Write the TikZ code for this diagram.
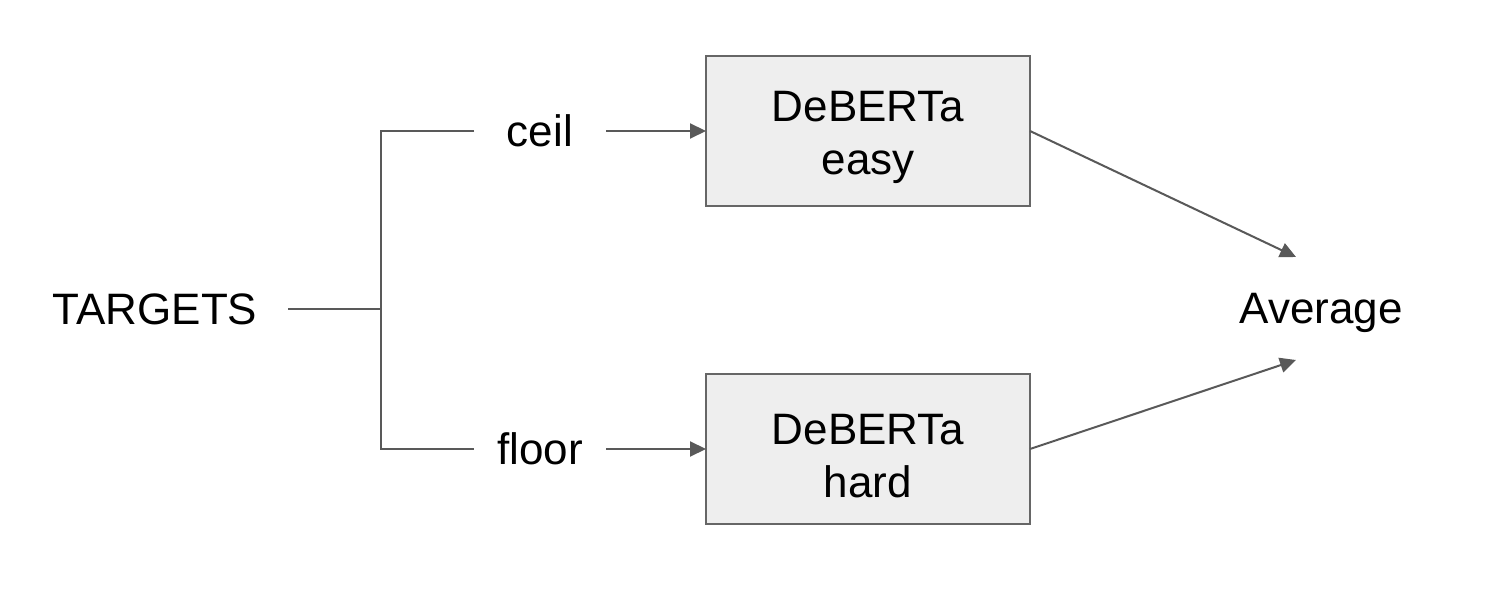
\documentclass[tikz,border=0pt]{standalone}
\usepackage{fontspec}
\setmainfont{Liberation Sans}
\usetikzlibrary{arrows.meta}
\definecolor{linec}{HTML}{595959}
\definecolor{boxfill}{HTML}{EEEEEE}
\definecolor{boxline}{HTML}{666666}
\begin{document}
\begin{tikzpicture}[x=0.5pt,y=-0.5pt,
  every node/.style={font=\fontsize{22pt}{26.5pt}\selectfont, inner sep=0pt, outer sep=0pt},
  conn/.style={draw=linec, line width=1pt},
  arr/.style={conn, -{Triangle[length=8pt,width=7.5pt]}},
  model/.style={draw=boxline, fill=boxfill, line width=1pt, minimum width=162pt, minimum height=75pt, align=center},
  lbl/.style={minimum width=66pt, minimum height=20pt}
]
\useasboundingbox (0,0) rectangle (1492,592);
\node[minimum width=133pt] (tg) at (155,309) {TARGETS};
\node[lbl] (ceil) at (540,131) {ceil};
\node[lbl] (floor) at (540,449) {floor};
\node[model] (easy) at (868,131) {\rule{0pt}{22pt}DeBERTa\\easy};
\node[model] (hard) at (868,449) {\rule{0pt}{22pt}DeBERTa\\hard};
\node (avg) at (1321,313) {Average};
\coordinate (j) at (381,309);
\coordinate (a1) at (1296,257);
\coordinate (a2) at (1296,360);
\draw[conn] (tg.east) -- (j);
\draw[conn] (ceil.west) -| (j) |- (floor.west);
\draw[arr] (ceil.east) -- (easy.west);
\draw[arr] (floor.east) -- (hard.west);
\draw[arr] (easy.east) -- (a1);
\draw[arr] (hard.east) -- (a2);
\end{tikzpicture}
\end{document}
